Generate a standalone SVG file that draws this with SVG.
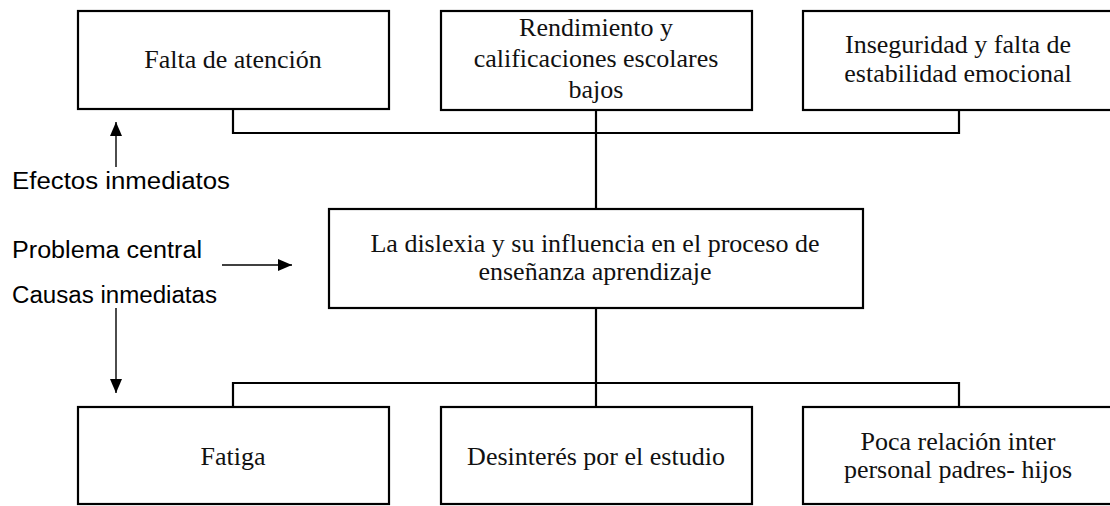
<svg xmlns="http://www.w3.org/2000/svg" width="1110" height="506" viewBox="0 0 1110 506">
  <style>
    .box { fill: #ffffff; stroke: #000000; stroke-width: 2.2; }
    .t { font-family: "Liberation Serif", "Times New Roman", serif; font-size: 26px; fill: #111111; text-anchor: middle; }
    .lbl { font-family: "Liberation Sans", Arial, sans-serif; font-size: 23px; fill: #000000; }
    .conn { fill: none; stroke: #000000; stroke-width: 2.2; }
    .arr { fill: none; stroke: #000000; stroke-width: 1.4; marker-end: url(#ah); }
  </style>
  <defs>
    <marker id="ah" viewBox="0 0 14 12" refX="14" refY="6" markerUnits="userSpaceOnUse" markerWidth="14" markerHeight="12" orient="auto">
      <path d="M0,0 L14,6 L0,12 Z" fill="#000000"/>
    </marker>
  </defs>
  <rect width="1110" height="506" fill="#ffffff"/>

  <g id="connectors">
    <polyline class="conn" points="233,109 233,133 959,133 959,109"/>
    <line class="conn" x1="596" y1="110" x2="596" y2="209"/>
    <line class="conn" x1="596" y1="308" x2="596" y2="407"/>
    <polyline class="conn" points="233,407 233,383 959,383 959,407"/>
    <line class="arr" x1="116" y1="167" x2="116" y2="122"/>
    <line class="arr" x1="222" y1="265" x2="292" y2="265"/>
    <line class="arr" x1="116" y1="308" x2="116" y2="393"/>
  </g>

  <g id="label-efectos"><text class="lbl" x="12" y="189" textLength="218" lengthAdjust="spacingAndGlyphs">Efectos inmediatos</text></g>
  <g id="label-problema"><text class="lbl" x="12" y="258" textLength="190" lengthAdjust="spacingAndGlyphs">Problema central</text></g>
  <g id="label-causas"><text class="lbl" x="12" y="303" textLength="205" lengthAdjust="spacingAndGlyphs">Causas inmediatas</text></g>

  <g id="efecto1">
    <rect class="box" x="78" y="11" width="311" height="98"/>
    <text class="t" x="233" y="68">Falta de atención</text>
  </g>
  <g id="efecto2">
    <rect class="box" x="441" y="11" width="311" height="99"/>
    <text class="t" x="596" y="36">Rendimiento y</text>
    <text class="t" x="596" y="67">calificaciones escolares</text>
    <text class="t" x="596" y="98">bajos</text>
  </g>
  <g id="efecto3">
    <rect class="box" x="803" y="11" width="312" height="99"/>
    <text class="t" x="958" y="53">Inseguridad y falta de</text>
    <text class="t" x="958" y="82">estabilidad emocional</text>
  </g>

  <g id="problema">
    <rect class="box" x="329" y="209" width="534" height="99"/>
    <text class="t" x="595" y="252">La dislexia y su influencia en el proceso de</text>
    <text class="t" x="595" y="280">enseñanza aprendizaje</text>
  </g>

  <g id="causa1">
    <rect class="box" x="78" y="407" width="311" height="97"/>
    <text class="t" x="233" y="465">Fatiga</text>
  </g>
  <g id="causa2">
    <rect class="box" x="441" y="407" width="311" height="97"/>
    <text class="t" x="596" y="465">Desinterés por el estudio</text>
  </g>
  <g id="causa3">
    <rect class="box" x="803" y="407" width="312" height="97"/>
    <text class="t" x="958" y="450">Poca relación inter</text>
    <text class="t" x="958" y="478">personal padres- hijos</text>
  </g>
</svg>
